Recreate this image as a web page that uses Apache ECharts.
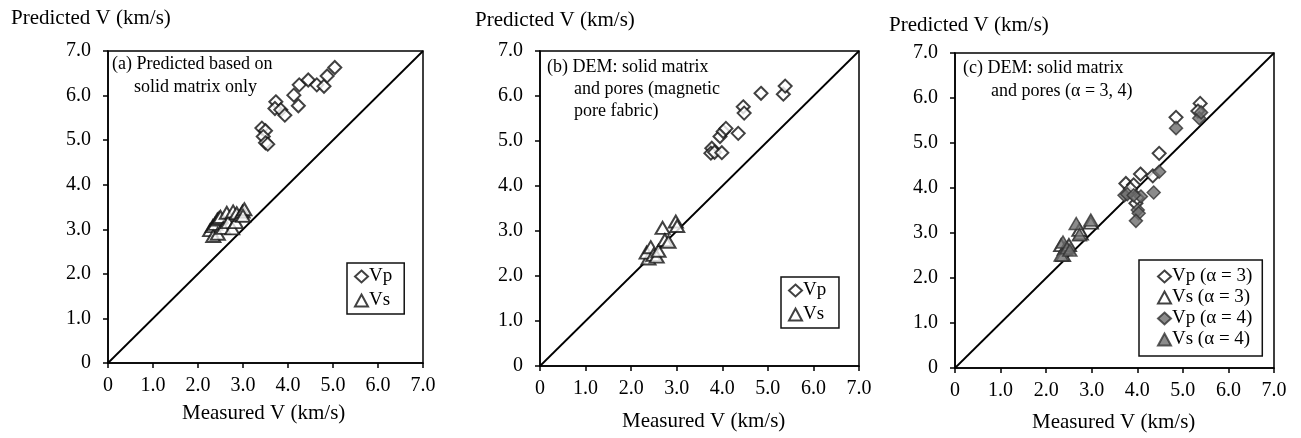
<!DOCTYPE html>
<html>
<head>
<meta charset="utf-8">
<script src="https://cdn.jsdelivr.net/npm/echarts@6/dist/echarts.min.js"></script>
<style>
  html, body { margin: 0; padding: 0; background: #fff; }
  #chart { width: 1301px; height: 438px; }
</style>
</head>
<body>
<div id="chart"></div>
<script>
// tick values (same on both axes of each panel)
var tickValues = [0, 1, 2, 3, 4, 5, 6, 7];
var diagLine = [[0, 0], [7, 7]];

// (a) solid matrix only
var aVp = [[3.42, 5.27], [3.50, 5.21], [3.45, 5.08], [3.50, 4.94], [3.55, 4.91],
           [3.73, 5.86], [3.71, 5.71], [3.84, 5.68], [3.93, 5.56], [4.13, 6.01],
           [4.23, 5.77], [4.25, 6.24], [4.45, 6.35], [4.64, 6.24], [4.80, 6.21],
           [4.87, 6.44], [5.04, 6.63]];
var aVs = [[2.27, 2.98], [2.33, 3.07], [2.34, 2.85], [2.38, 3.12], [2.43, 3.22],
           [2.44, 2.90], [2.47, 3.25], [2.50, 3.28], [2.56, 3.03], [2.64, 3.37],
           [2.67, 3.16], [2.76, 3.02], [2.78, 3.40], [2.84, 3.16], [2.86, 3.36],
           [2.96, 3.32], [2.99, 3.40], [3.03, 3.45], [3.00, 3.30]];

// (b) DEM, magnetic pore fabric
var bVp = [[3.77, 4.84], [3.75, 4.73], [3.83, 4.75], [3.99, 4.74], [3.95, 5.10],
           [4.02, 5.21], [4.08, 5.28], [4.35, 5.17], [4.46, 5.76], [4.48, 5.62],
           [4.85, 6.06], [5.34, 6.04], [5.38, 6.22]];
var bVs = [[2.38, 2.39], [2.34, 2.52], [2.43, 2.64], [2.49, 2.47], [2.56, 2.43],
           [2.60, 2.56], [2.69, 3.07], [2.74, 2.80], [2.82, 2.76], [2.98, 3.21],
           [3.01, 3.11]];

// (c) DEM, alpha = 3 and alpha = 4
var cVp3 = [[5.38, 5.88], [5.33, 5.71], [4.85, 5.57], [4.48, 4.77], [4.07, 4.31],
            [4.34, 4.27], [3.75, 4.10], [3.92, 4.07], [3.85, 3.98], [3.97, 3.66],
            [4.00, 3.78]];
var cVs3 = [[2.33, 2.73], [2.41, 2.65], [2.50, 2.73], [2.76, 2.99], [2.73, 3.07],
            [2.98, 3.23], [2.37, 2.51]];
var cVp4 = [[5.36, 5.55], [5.40, 5.68], [4.85, 5.33], [4.48, 4.36], [4.36, 3.90],
            [4.08, 3.81], [3.72, 3.84], [3.78, 3.86], [3.92, 3.84], [4.01, 3.51],
            [4.03, 3.44], [3.97, 3.27]];
var cVs4 = [[2.33, 2.51], [2.37, 2.80], [2.46, 2.67], [2.66, 3.21], [2.98, 3.29],
            [2.73, 2.96], [2.52, 2.62]];

var FONT = '"Liberation Serif", "Times New Roman", serif';
var chart = echarts.init(document.getElementById('chart'));

var grids = [
    {left: 108, top: 51, width: 315, height: 312},
    {left: 540, top: 51, width: 319, height: 315},
    {left: 955, top: 53, width: 319, height: 315}
];

function axis(idx, margin) {
    return {
        gridIndex: idx, type: 'value', min: 0, max: 7, interval: 1,
        axisLine: {show: true, lineStyle: {color: '#000', width: 1.5}},
        axisTick: {show: true, inside: false, length: 5, lineStyle: {color: '#000', width: 1.5}},
        splitLine: {show: false},
        axisLabel: {
            color: '#000', fontFamily: FONT, fontSize: 20, margin: margin,
            formatter: function (v) { return v === 0 ? '0' : v.toFixed(1); }
        }
    };
}

var xAxes = [], yAxes = [];
for (var i = 0; i < 3; i++) {
    xAxes.push(axis(i, 13));
    yAxes.push(axis(i, 17));
}

var openDiamond = {color: '#fff', borderColor: '#111', borderWidth: 2};
var openTri = {color: '#fff', borderColor: '#111', borderWidth: 2};
var greyFill = {color: '#6e6e6e', borderColor: '#333', borderWidth: 1.5};

function scatter(name, idx, data, symbol, style) {
    return {
        name: name, type: 'scatter', xAxisIndex: idx, yAxisIndex: idx,
        data: data, symbol: symbol,
        symbolSize: symbol === 'diamond' ? [13, 13] : [14, 12],
        itemStyle: style, z: 3
    };
}
function diag(idx) {
    return {
        type: 'line', xAxisIndex: idx, yAxisIndex: idx, data: diagLine,
        symbol: 'none', lineStyle: {color: '#000', width: 1.8}, z: 2, silent: true
    };
}

var series = [
    scatter('Vp', 0, aVp, 'diamond', openDiamond),
    scatter('Vs', 0, aVs, 'triangle', openTri),
    diag(0),
    scatter('Vp ', 1, bVp, 'diamond', openDiamond),
    scatter('Vs ', 1, bVs, 'triangle', openTri),
    diag(1),
    scatter('Vp (α = 3)', 2, cVp3, 'diamond', openDiamond),
    scatter('Vs (α = 3)', 2, cVs3, 'triangle', openTri),
    scatter('Vp (α = 4)', 2, cVp4, 'diamond', greyFill),
    scatter('Vs (α = 4)', 2, cVs4, 'triangle', greyFill),
    diag(2)
];

function legendBox(data, left, top, pad, gap) {
    return {
        data: data, orient: 'vertical', left: left, top: top,
        padding: pad, itemGap: gap, itemWidth: 13, itemHeight: 12,
        borderColor: '#111', borderWidth: 1.5, backgroundColor: '#fff',
        selectedMode: false,
        textStyle: {fontFamily: FONT, fontSize: 19, color: '#000', padding: [0, 0, 0, -4]}
    };
}

function txt(x, y, s, size) {
    return {
        type: 'text', left: x, top: y, silent: true,
        style: {text: s, fontFamily: FONT, fontSize: size, fill: '#000'}
    };
}

var option = {
    backgroundColor: '#fff',
    animation: false,
    grid: grids.map(function (g) {
        return {left: g.left, top: g.top, width: g.width, height: g.height,
                show: true, borderColor: '#000', borderWidth: 1.5, backgroundColor: 'transparent'};
    }),
    xAxis: xAxes,
    yAxis: yAxes,
    legend: [
        legendBox(['Vp', 'Vs'], 347, 263, [4, 12, 4, 7], 5),
        legendBox(['Vp ', 'Vs '], 781, 277, [4, 8, 4, 7], 5),
        legendBox(['Vp (α = 3)', 'Vs (α = 3)', 'Vp (α = 4)', 'Vs (α = 4)'], 1139, 260, [7, 10, 7, 18], 2)
    ],
    graphic: [
        // y axis titles
        txt(11, 8, 'Predicted V (km/s)', 21),
        txt(475, 10, 'Predicted V (km/s)', 21),
        txt(889, 15, 'Predicted V (km/s)', 21),
        // x axis titles
        txt(182, 403, 'Measured V (km/s)', 21),
        txt(622, 411, 'Measured V (km/s)', 21),
        txt(1032, 412, 'Measured V (km/s)', 21),
        // panel notes
        txt(112, 55, '(a) Predicted based on', 18),
        txt(134, 78, 'solid matrix only', 18),
        txt(547, 58, '(b) DEM: solid matrix', 18),
        txt(574, 80, 'and pores (magnetic', 18),
        txt(574, 102, 'pore fabric)', 18),
        txt(963, 59, '(c) DEM: solid matrix', 18),
        txt(991, 82, 'and pores (α = 3, 4)', 18)
    ],
    series: series
};
chart.setOption(option);
</script>
</body>
</html>
